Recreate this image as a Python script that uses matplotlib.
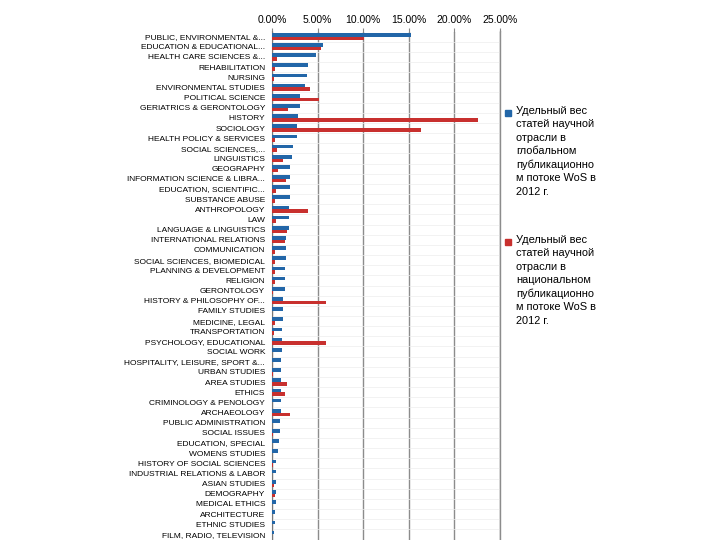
import numpy as np
import matplotlib.pyplot as plt
from matplotlib.patches import Rectangle
from matplotlib.ticker import PercentFormatter

plt.rcParams['font.family'] = ['Liberation Sans', 'DejaVu Sans']

categories = [
    'PUBLIC, ENVIRONMENTAL &...', 'EDUCATION & EDUCATIONAL...',
    'HEALTH CARE SCIENCES &...', 'REHABILITATION', 'NURSING',
    'ENVIRONMENTAL STUDIES', 'POLITICAL SCIENCE', 'GERIATRICS & GERONTOLOGY',
    'HISTORY', 'SOCIOLOGY', 'HEALTH POLICY & SERVICES', 'SOCIAL SCIENCES,...',
    'LINGUISTICS', 'GEOGRAPHY', 'INFORMATION SCIENCE & LIBRA...',
    'EDUCATION, SCIENTIFIC...', 'SUBSTANCE ABUSE', 'ANTHROPOLOGY', 'LAW',
    'LANGUAGE & LINGUISTICS', 'INTERNATIONAL RELATIONS', 'COMMUNICATION',
    'SOCIAL SCIENCES, BIOMEDICAL', 'PLANNING & DEVELOPMENT', 'RELIGION',
    'GERONTOLOGY', 'HISTORY & PHILOSOPHY OF...', 'FAMILY STUDIES',
    'MEDICINE, LEGAL', 'TRANSPORTATION', 'PSYCHOLOGY, EDUCATIONAL',
    'SOCIAL WORK', 'HOSPITALITY, LEISURE, SPORT &...', 'URBAN STUDIES',
    'AREA STUDIES', 'ETHICS', 'CRIMINOLOGY & PENOLOGY', 'ARCHAEOLOGY',
    'PUBLIC ADMINISTRATION', 'SOCIAL ISSUES', 'EDUCATION, SPECIAL',
    'WOMENS STUDIES', 'HISTORY OF SOCIAL SCIENCES',
    'INDUSTRIAL RELATIONS & LABOR', 'ASIAN STUDIES', 'DEMOGRAPHY',
    'MEDICAL ETHICS', 'ARCHITECTURE', 'ETHNIC STUDIES',
    'FILM, RADIO, TELEVISION',
]

# share in global WoS flow, %
world = [15.2, 5.6, 4.85, 3.95, 3.85, 3.6, 3.1, 3.1, 2.85, 2.75,
         2.75, 2.35, 2.2, 2.0, 2.0, 2.0, 2.0, 1.9, 1.9, 1.9,
         1.55, 1.55, 1.55, 1.45, 1.45, 1.45, 1.2, 1.2, 1.2, 1.1,
         1.1, 1.1, 1.0, 1.0, 1.0, 1.0, 1.0, 1.0, 0.9, 0.9,
         0.8, 0.65, 0.45, 0.45, 0.45, 0.45, 0.45, 0.35, 0.35, 0.25]
# share in national WoS flow, %
national = [10.1, 5.35, 0.55, 0.35, 0.2, 4.2, 5.1, 1.8, 22.6, 16.3,
            0.35, 0.5, 1.2, 0.65, 1.55, 0.45, 0.3, 3.95, 0.45, 1.65,
            1.45, 0.3, 0.3, 0.35, 0.35, 0.1, 5.9, 0.0, 0.35, 0.2,
            5.9, 0.0, 0.0, 0.1, 1.65, 1.45, 0.0, 2.0, 0.0, 0.1,
            0.0, 0.0, 0.1, 0.0, 0.2, 0.35, 0.0, 0.0, 0.0, 0.0]

legend_labels = [
    'Удельный вес\nстатей научной\nотрасли в\nглобальном\nпубликационно\nм потоке WoS в\n2012 г.',
    'Удельный вес\nстатей научной\nотрасли в\nнациональном\nпубликационно\nм потоке WoS в\n2012 г.',
]

blue = '#2266a8'
red = '#c8302e'

fig = plt.figure(figsize=(7.2, 5.4), dpi=100)
ax = fig.add_axes([272 / 720, 1 - 539.5 / 540, 228 / 720, 508 / 540])

y = np.arange(len(categories))
h = 0.36
ax.barh(y - h / 2, world, height=h, color=blue, zorder=3)
ax.barh(y + h / 2, national, height=h, color=red, zorder=3)

ax.set_ylim(len(categories) - 0.5, -0.5)
ax.set_xlim(0, 25)
ax.set_xticks(np.arange(0, 26, 5))
ax.xaxis.set_major_formatter(PercentFormatter(decimals=2))
ax.xaxis.tick_top()
ax.tick_params(axis='x', labelsize=7.5, length=3, color='#888888', pad=2)
ax.set_yticks(y)
ax.set_yticklabels(categories, fontsize=6.0)
ax.tick_params(axis='y', length=0, pad=5)
ax.set_yticks(np.arange(len(categories) + 1) - 0.5, minor=True)
ax.tick_params(axis='y', which='minor', length=0)

ax.grid(axis='x', color='#8c8c8c', linewidth=1.0, zorder=0)
ax.grid(axis='y', which='minor', color='#ededed', linewidth=0.5, zorder=0)
for s in ['top', 'bottom']:
    ax.spines[s].set_visible(False)
ax.spines['right'].set_color('#8c8c8c')
ax.spines['right'].set_linewidth(1.0)
ax.spines['left'].set_color('#777777')

# legend drawn by hand so the marker sits by the first line
for i, (lab, col) in enumerate(zip(legend_labels, [blue, red])):
    ytop = 1 - (110 + 129 * i) / 540
    fig.patches.append(Rectangle((505 / 720, ytop - 6 / 540), 6 / 720, 6 / 540,
                                 transform=fig.transFigure, color=col))
    fig.text(516 / 720, ytop + 4 / 540, lab, fontsize=7.9, va='top', ha='left',
             linespacing=1.42)

fig.savefig('out.png', dpi=100)
